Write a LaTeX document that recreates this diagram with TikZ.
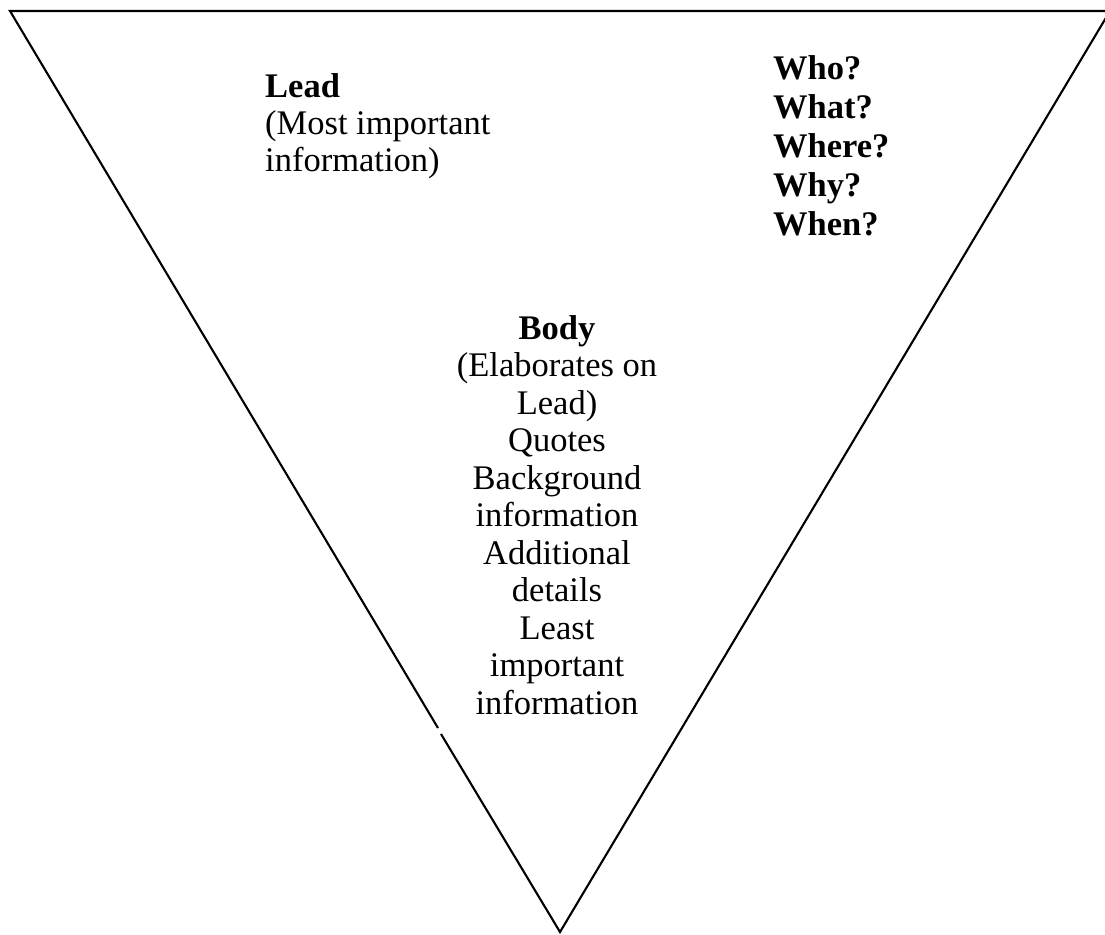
\documentclass[tikz,border=0pt]{standalone}
\usepackage{fontspec}
\setmainfont{Liberation Serif}
\begin{document}
\begin{tikzpicture}[x=1pt,y=-1pt,
  edge/.style={line width=2.1pt,line join=miter,line cap=butt},
  txt/.style={inner sep=0pt,font=\fontsize{34.5}{37}\selectfont},
  btxt/.style={inner sep=0pt,font=\fontsize{34.5}{37.5}\selectfont},
  qtxt/.style={inner sep=0pt,font=\fontsize{34.5}{38.8}\selectfont\bfseries}]
\useasboundingbox (0,0) rectangle (1105,934);
\coordinate (tl) at (10,11);
\coordinate (tr) at (1110,11);
\coordinate (apex) at (560,932);
\coordinate (gapA) at (438,728);
\coordinate (gapB) at (441,734);
\draw[edge] (gapA) -- (tl) -- (tr) -- (apex) -- (gapB);
\node[txt,anchor=base west,align=left] (lead) at (265,171)
  {\textbf{Lead}\\(Most important\\information)};
\node[qtxt,anchor=base west,align=left] (ws) at (773,235)
  {Who?\\What?\\Where?\\Why?\\When?};
\node[btxt,anchor=base,align=center] (body) at (557,714)
  {\textbf{Body}\\(Elaborates on\\Lead)\\Quotes\\Background\\information\\Additional\\details\\Least\\important\\information};
\end{tikzpicture}
\end{document}
